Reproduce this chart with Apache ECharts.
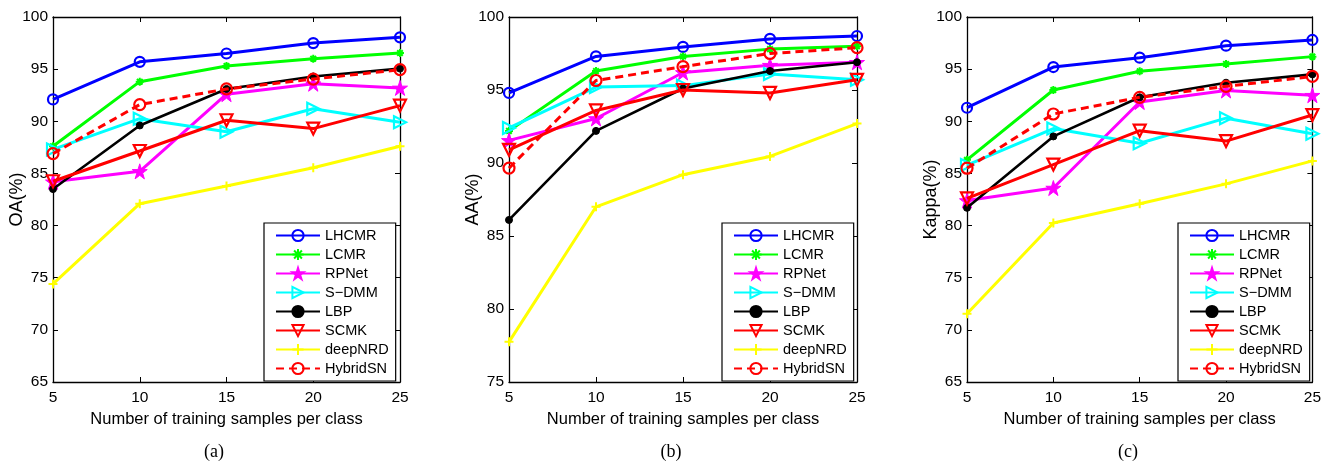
<!DOCTYPE html>
<html>
<head>
<meta charset="utf-8">
<script src="https://cdn.jsdelivr.net/npm/echarts@6/dist/echarts.min.js"></script>
<style>
html,body{margin:0;padding:0;background:#fff;}
#chart{width:1324px;height:463px;}
</style>
</head>
<body>
<div id="chart"></div>
<script>
// ---------- data ----------
const xValues = [5, 10, 15, 20, 25];
const methods = ['LHCMR', 'LCMR', 'RPNet', 'S\u2212DMM', 'LBP', 'SCMK', 'deepNRD', 'HybridSN'];
const panelLabels = ['(a)', '(b)', '(c)'];
const yNames = ['OA(%)', 'AA(%)', 'Kappa(%)'];
const xName = 'Number of training samples per class';

// (a) OA
const oaLHCMR    = [92.1, 95.7, 96.5, 97.5, 98.05];
const oaLCMR     = [87.6, 93.8, 95.3, 96.0, 96.55];
const oaRPNet    = [84.2, 85.2, 92.6, 93.6, 93.2];
const oaSDMM     = [87.3, 90.25, 89.0, 91.2, 89.9];
const oaLBP      = [83.5, 89.6, 93.1, 94.3, 95.05];
const oaSCMK     = [84.25, 87.15, 90.1, 89.3, 91.5];
const oaDeepNRD  = [74.4, 82.1, 83.8, 85.55, 87.6];
const oaHybridSN = [86.9, 91.6, 93.1, 94.05, 94.95];

// (b) AA
const aaLHCMR    = [94.8, 97.3, 97.95, 98.5, 98.7];
const aaLCMR     = [92.2, 96.3, 97.3, 97.8, 98.0];
const aaRPNet    = [91.55, 93.05, 96.2, 96.7, 96.9];
const aaSDMM     = [92.4, 95.2, 95.3, 96.1, 95.7];
const aaLBP      = [86.1, 92.2, 95.1, 96.3, 96.9];
const aaSCMK     = [90.9, 93.6, 95.0, 94.8, 95.7];
const aaDeepNRD  = [77.75, 87.0, 89.2, 90.45, 92.7];
const aaHybridSN = [89.65, 95.65, 96.6, 97.5, 97.9];

// (c) Kappa
const kLHCMR    = [91.3, 95.2, 96.1, 97.25, 97.8];
const kLCMR     = [86.3, 93.0, 94.8, 95.5, 96.2];
const kRPNet    = [82.4, 83.6, 91.85, 92.95, 92.5];
const kSDMM     = [85.8, 89.3, 87.9, 90.3, 88.8];
const kLBP      = [81.7, 88.55, 92.3, 93.7, 94.5];
const kSCMK     = [82.6, 85.85, 89.1, 88.1, 90.6];
const kDeepNRD  = [71.55, 80.25, 82.1, 84.0, 86.2];
const kHybridSN = [85.5, 90.7, 92.3, 93.35, 94.3];

const yMins = [65, 75, 65];
const yMaxs = [100, 100, 100];
const yTickInterval = 5;
const xTickInterval = 5;

const panelData = [
  [oaLHCMR, oaLCMR, oaRPNet, oaSDMM, oaLBP, oaSCMK, oaDeepNRD, oaHybridSN],
  [aaLHCMR, aaLCMR, aaRPNet, aaSDMM, aaLBP, aaSCMK, aaDeepNRD, aaHybridSN],
  [kLHCMR, kLCMR, kRPNet, kSDMM, kLBP, kSCMK, kDeepNRD, kHybridSN]
];

// ---------- styles ----------
const FONT = 'Liberation Sans, Arial, Helvetica, sans-serif';
const STAR = 'path://M0,-10L2.245,-3.09L9.51,-3.09L3.633,1.18L5.88,8.09L0,3.82L-5.88,8.09L-3.633,1.18L-9.51,-3.09L-2.245,-3.09Z';
const ASTER = 'path://M0,-10L0,10M-10,0L10,0M-7,-7L7,7M-7,7L7,-7';
const PLUS = 'path://M0,-10L0,10M-10,0L10,0';
const TRI_RIGHT = 'path://M-8,-9L10,0L-8,9Z';
const TRI_DOWN = 'path://M-9,-8L9,-8L0,10Z';
const NONE = 'rgba(0,0,0,0)';

const seriesStyles = [
  {color: '#0000ff', symbol: 'circle', size: 10, fill: NONE, bw: 2.2, lw: 3},
  {color: '#00ff00', symbol: ASTER, size: 8, fill: NONE, bw: 2, lw: 3},
  {color: '#ff00ff', symbol: STAR, size: 15, fill: '#ff00ff', bw: 1, lw: 3},
  {color: '#00ffff', symbol: TRI_RIGHT, size: 12, fill: NONE, bw: 2.2, lw: 3},
  {color: '#000000', symbol: 'circle', size: 7, fill: '#000000', bw: 1, lw: 2.6},
  {color: '#ff0000', symbol: TRI_DOWN, size: 12, fill: NONE, bw: 2.2, lw: 3},
  {color: '#ffff00', symbol: PLUS, size: 9, fill: NONE, bw: 2, lw: 3},
  {color: '#ff0000', symbol: 'circle', size: 11, fill: NONE, bw: 2.2, lw: 3, dash: [8, 5]}
];

const grids = [
  {left: 53, right: 924, top: 17, bottom: 81},
  {left: 509, right: 467, top: 17, bottom: 81},
  {left: 967, right: 10, top: 17, bottom: 81}
];
const legendLefts = [264, 722, 1178];
const captionX = [214, 671, 1128];

const xAxes = [], yAxes = [], series = [], legends = [], graphics = [];
const axisLineStyle = {color: '#000', width: 1.3};
const tickStyle = {color: '#000', width: 1};

grids.forEach((g, gi) => {
  xAxes.push({
    type: 'value', gridIndex: gi, position: 'bottom', min: xValues[0], max: xValues[xValues.length - 1], interval: xTickInterval,
    axisLine: {show: true, onZero: false, lineStyle: axisLineStyle},
    axisTick: {show: true, inside: true, length: 5, lineStyle: tickStyle},
    axisLabel: {show: true, color: '#000', fontSize: 15.5, fontFamily: FONT, margin: 8},
    splitLine: {show: false},
    name: xName, nameLocation: 'middle', nameGap: 26,
    nameTextStyle: {color: '#000', fontSize: 16.5, fontFamily: FONT}
  });
  xAxes.push({
    type: 'value', gridIndex: gi, position: 'top', min: xValues[0], max: xValues[xValues.length - 1], interval: xTickInterval,
    axisLine: {show: true, onZero: false, lineStyle: axisLineStyle},
    axisTick: {show: true, inside: true, length: 5, lineStyle: tickStyle},
    axisLabel: {show: false}, splitLine: {show: false}
  });
  yAxes.push({
    type: 'value', gridIndex: gi, position: 'left', min: yMins[gi], max: yMaxs[gi], interval: yTickInterval,
    axisLine: {show: true, onZero: false, lineStyle: axisLineStyle},
    axisTick: {show: true, inside: true, length: 5, lineStyle: tickStyle},
    axisLabel: {show: true, color: '#000', fontSize: 15.5, fontFamily: FONT, margin: 5},
    splitLine: {show: false},
    name: yNames[gi], nameLocation: 'middle', nameGap: 27, nameMoveOverlap: false,
    nameTextStyle: {color: '#000', fontSize: 18, fontFamily: FONT}
  });
  yAxes.push({
    type: 'value', gridIndex: gi, position: 'right', min: yMins[gi], max: yMaxs[gi], interval: yTickInterval,
    axisLine: {show: true, onZero: false, lineStyle: axisLineStyle},
    axisTick: {show: true, inside: true, length: 5, lineStyle: tickStyle},
    axisLabel: {show: false}, splitLine: {show: false}
  });

  panelData[gi].forEach((vals, si) => {
    const st = seriesStyles[si];
    series.push({
      type: 'line', name: methods[si], xAxisIndex: gi * 2, yAxisIndex: gi * 2,
      data: xValues.map((x, i) => [x, vals[i]]),
      symbol: st.symbol, symbolSize: st.size, showSymbol: true,
      lineStyle: {color: st.color, width: st.lw, type: st.dash ? st.dash : 'solid'},
      itemStyle: {color: st.fill, borderColor: st.color, borderWidth: st.bw},
      emphasis: {disabled: true}, animation: false, z: 2 + si * 0.01
    });
  });

  legends.push({
    orient: 'vertical', left: legendLefts[gi], top: 223,
    data: methods.slice(),
    itemWidth: 44, itemHeight: 14, itemGap: 4,
    padding: [5, 7, 5, 11],
    borderColor: '#000', borderWidth: 1.2, backgroundColor: '#fff',
    textStyle: {color: '#000', fontSize: 14.5, fontFamily: FONT},
    selectedMode: false
  });

  graphics.push({
    type: 'text', x: captionX[gi], y: 452,
    style: {text: panelLabels[gi], font: '18px "Liberation Serif", "Times New Roman", serif', fill: '#000', textAlign: 'center', textVerticalAlign: 'middle'}
  });
});

const chart = echarts.init(document.getElementById('chart'), null, {renderer: 'canvas'});
chart.setOption({
  backgroundColor: '#fff',
  animation: false,
  grid: grids,
  xAxis: xAxes,
  yAxis: yAxes,
  legend: legends,
  series: series,
  graphic: graphics,
  tooltip: {show: false}
});
</script>
</body>
</html>
